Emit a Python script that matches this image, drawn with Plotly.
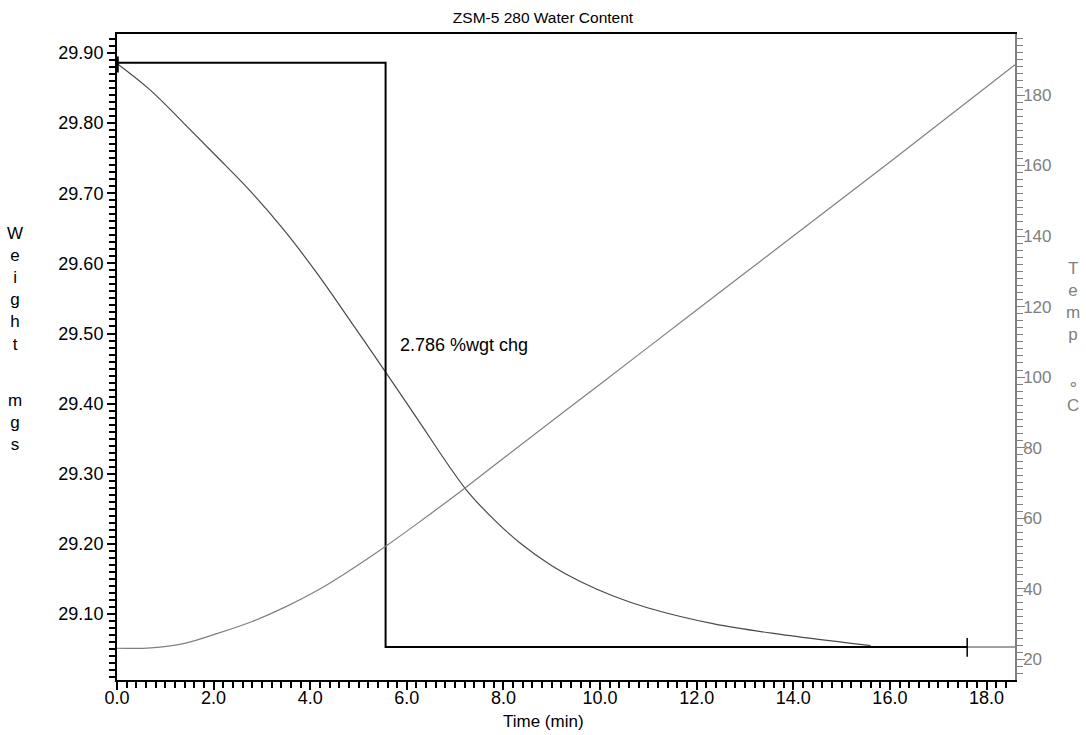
import plotly.graph_objects as go

# ---------------- data ----------------
time_temp = [0.0, 0.7, 1.4, 2.1, 2.8, 3.5, 4.2, 4.8, 5.6, 6.2, 7.2, 8.0, 10.0, 12.0, 14.0, 16.0, 18.59]
temp_c = [23.1, 23.2, 24.5, 27.4, 30.7, 34.9, 39.9, 45.0, 52.4, 58.3, 68.5, 77.0, 98.0, 119.0, 140.0, 161.0, 188.6]

time_wt = [0.0, 0.69, 1.38, 2.07, 2.76, 3.45, 4.15, 4.84, 5.56, 6.2, 7.21, 7.8, 8.35, 9.0, 9.6,
           10.3, 10.98, 12.36, 13.74, 15.12, 15.6]
weight_mg = [29.885, 29.847, 29.800, 29.752, 29.703, 29.648, 29.585, 29.517, 29.445, 29.380, 29.279,
             29.235, 29.201, 29.169, 29.146, 29.125, 29.109, 29.086, 29.071, 29.059, 29.055]

step_time = [0.0, 5.56, 5.56, 17.6]
step_weight = [29.886, 29.886, 29.053, 29.053]
tail_time = [17.6, 18.59]
tail_weight = [29.053, 29.053]

start_marker_time = [0.0, 0.0]
start_marker_weight = [29.895, 29.872]
end_marker_time = [17.6, 17.6]
end_marker_weight = [29.066, 29.039]

x_ticks = [0, 2, 4, 6, 8, 10, 12, 14, 16, 18]
title_text = "ZSM-5 280 Water Content"
change_label = "2.786 %wgt chg"

FONT = "Liberation Sans, Arial, sans-serif"
GREY = "#808080"
W, H = 1086, 735
L, R, T, B = 117, 71, 34, 55
PW, PH = W - L - R, H - T - B


def px_to_paper_x(px):
    return (px - L) / PW


def px_to_paper_y(py):
    return (H - B - py) / PH


fig = go.Figure()

fig.add_trace(go.Scatter(x=time_temp, y=temp_c, mode="lines", yaxis="y2",
                         line=dict(color=GREY, width=1.2, shape="spline", smoothing=1.0),
                         hoverinfo="skip"))
fig.add_trace(go.Scatter(x=time_wt, y=weight_mg, mode="lines",
                         line=dict(color="#4a4a4a", width=1.2, shape="spline", smoothing=1.0),
                         hoverinfo="skip"))
fig.add_trace(go.Scatter(x=step_time, y=step_weight, mode="lines",
                         line=dict(color="black", width=2), hoverinfo="skip"))
fig.add_trace(go.Scatter(x=tail_time, y=tail_weight, mode="lines",
                         line=dict(color=GREY, width=1.5), hoverinfo="skip"))
fig.add_trace(go.Scatter(x=start_marker_time, y=start_marker_weight, mode="lines",
                         line=dict(color="black", width=3.5), hoverinfo="skip"))
fig.add_trace(go.Scatter(x=end_marker_time, y=end_marker_weight, mode="lines",
                         line=dict(color="black", width=1.5), hoverinfo="skip"))

annotations = [
    dict(x=5.82, y=29.483, xref="x", yref="y", text=change_label, showarrow=False,
         xanchor="left", yanchor="middle", font=dict(family=FONT, size=18, color="black")),
    dict(x=px_to_paper_x(543), y=px_to_paper_y(721), xref="paper", yref="paper", text="Time (min)",
         showarrow=False, xanchor="center", yanchor="middle",
         font=dict(family=FONT, size=17, color="black")),
    dict(x=px_to_paper_x(15), y=px_to_paper_y(222), xref="paper", yref="paper",
         text="W<br>e<br>i<br>g<br>h<br>t", showarrow=False, xanchor="center", yanchor="top",
         align="center", font=dict(family=FONT, size=17, color="black")),
    dict(x=px_to_paper_x(15), y=px_to_paper_y(389), xref="paper", yref="paper",
         text="m<br>g<br>s", showarrow=False, xanchor="center", yanchor="top",
         align="center", font=dict(family=FONT, size=17, color="black")),
    dict(x=px_to_paper_x(1073), y=px_to_paper_y(257), xref="paper", yref="paper",
         text="T<br>e<br>m<br>p", showarrow=False, xanchor="center", yanchor="top",
         align="center", font=dict(family=FONT, size=17, color=GREY)),
    dict(x=px_to_paper_x(1073), y=px_to_paper_y(372), xref="paper", yref="paper",
         text="∘<br>C", showarrow=False, xanchor="center", yanchor="top",
         align="center", font=dict(family=FONT, size=17, color=GREY)),
]

fig.update_layout(
    width=W, height=H,
    margin=dict(l=L, r=R, t=T, b=B, pad=0),
    paper_bgcolor="white", plot_bgcolor="white",
    showlegend=False,
    title=dict(text=title_text, x=0.5, xref="container", xanchor="center",
               y=1 - 18 / H, yref="container", yanchor="middle",
               font=dict(family=FONT, size=15.5, color="black")),
    font=dict(family=FONT, size=18, color="black"),
    annotations=annotations,
    xaxis=dict(range=[0, 18.59], tickvals=x_ticks, tickformat=".1f",
               showgrid=False, zeroline=False, showline=True, linecolor="black", linewidth=2,
               mirror=True, ticks="outside", ticklen=8, tickwidth=1.5, tickcolor="black",
               ticklabelstandoff=-8,
               tickfont=dict(family=FONT, size=18, color="black"),
               minor=dict(dtick=0.2, ticks="outside", ticklen=6, tickwidth=1.5, tickcolor="black",
                          showgrid=False)),
    yaxis=dict(range=[29.006, 29.927], tick0=29.0, dtick=0.1, tickformat=".2f",
               showgrid=False, zeroline=False, showline=True, linecolor="black", linewidth=2,
               ticks="outside", ticklen=8, tickwidth=1.5, tickcolor="black",
               tickfont=dict(family=FONT, size=18, color="black"),
               minor=dict(dtick=0.01, tick0=29.0, ticks="outside", ticklen=6, tickwidth=1.5,
                          tickcolor="black", showgrid=False)),
    yaxis2=dict(range=[14.1, 197.3], tick0=0, dtick=20, overlaying="y", side="right",
                showgrid=False, zeroline=False, showline=True, linecolor=GREY, linewidth=1.5,
                ticks="outside", ticklen=8, tickwidth=1.2, tickcolor=GREY,
                ticklabelstandoff=-5,
                tickfont=dict(family=FONT, size=17, color=GREY),
                minor=dict(dtick=2, tick0=0, ticks="outside", ticklen=6, tickwidth=1.2,
                           tickcolor=GREY, showgrid=False)),
)

fig.write_html("out.html")
